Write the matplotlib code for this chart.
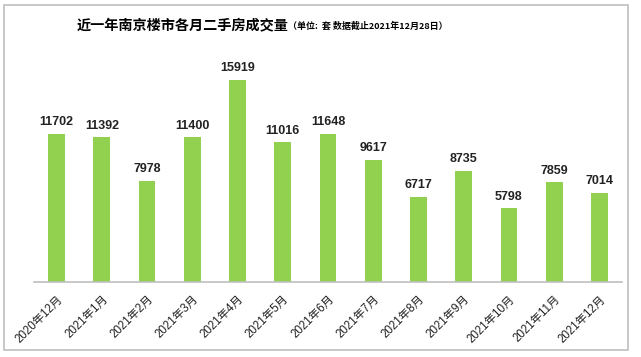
import matplotlib
matplotlib.use("Agg")
import matplotlib.pyplot as plt
from matplotlib.patches import Rectangle

plt.rcParams['font.family'] = ['Liberation Sans', 'Noto Sans CJK SC', 'DejaVu Sans']

months = ["2020年12月", "2021年1月", "2021年2月", "2021年3月", "2021年4月", "2021年5月",
          "2021年6月", "2021年7月", "2021年8月", "2021年9月", "2021年10月", "2021年11月", "2021年12月"]
values = [11702, 11392, 7978, 11400, 15919, 11016, 11648, 9617, 6717, 8735, 5798, 7859, 7014]

W, H = 641, 357
fig = plt.figure(figsize=(W/100, H/100), dpi=100)
fig.patch.set_facecolor('white')

# outer border
fig.patches.append(Rectangle((4/W, 7/H), 624/W, 345/H, transform=fig.transFigure,
                             fill=False, edgecolor='#BFBFBF', linewidth=1.2))

left, right, bottom, top = 34, 622, 282, 60
ax = fig.add_axes([left/W, 1-bottom/H, (right-left)/W, (bottom-top)/H])
x = list(range(len(months)))
ax.bar(x, values, width=0.37, color='#92D050')
ax.set_xlim(-0.5, len(months)-0.5)
ax.set_ylim(0, 17495)
for xi, v in zip(x, values):
    ax.text(xi, v + 450, str(v), ha='center', va='bottom', fontsize=9, fontweight='bold', color='#222222')
ax.set_xticks(x)
ax.set_xticklabels(months, rotation=45, ha='right', rotation_mode='anchor', fontsize=8.3, color='#222222')
ax.tick_params(axis='x', length=0, pad=8)
ax.set_yticks([])
for s in ['top', 'right', 'left']:
    ax.spines[s].set_visible(False)
ax.spines['bottom'].set_color('#BFBFBF')
ax.spines['bottom'].set_linewidth(1.2)

fig.text(77/W, 1-25/H, "近一年南京楼市各月二手房成交量", ha='left', va='center',
         fontsize=10.2, fontweight='bold', family=['Noto Sans CJK SC', 'DejaVu Sans'])
fig.text(288/W, 1-26/H, "（单位:  套 数据截止2021年12月28日）", ha='left', va='center',
         fontsize=6.5, fontweight='bold', family=['Noto Sans CJK SC', 'DejaVu Sans'])

fig.savefig("out.png", dpi=100)
